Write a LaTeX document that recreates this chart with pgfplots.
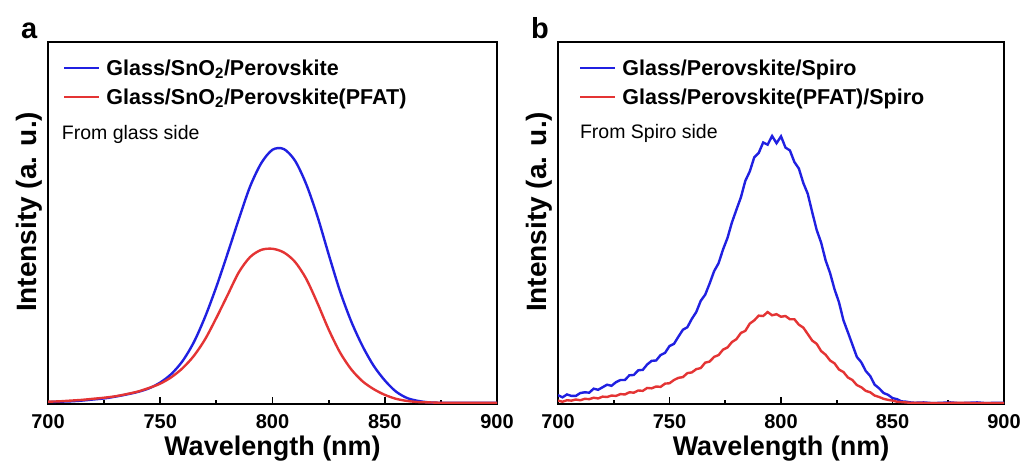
\documentclass[border=0pt]{standalone}
\usepackage{fontspec}
\setmainfont{Liberation Sans}
\usepackage{pgfplots}
\pgfplotsset{compat=1.18}
\definecolor{cblue}{RGB}{32,32,225}
\definecolor{cred}{RGB}{228,52,52}

\pgfplotstableread{
x y
700 0.004
705 0.005
710 0.006
715 0.008
720 0.011
725 0.014
730 0.019
735 0.025
740 0.032
745 0.042
750 0.058
755 0.082
760 0.118
765 0.170
770 0.240
775 0.323
780 0.415
785 0.510
790 0.600
795 0.665
800 0.702
805 0.704
810 0.672
815 0.607
820 0.518
825 0.413
830 0.312
835 0.228
840 0.160
845 0.105
850 0.064
855 0.033
860 0.015
865 0.007
870 0.003
875 0.002
880 0.002
885 0.002
890 0.002
895 0.002
900 0.002
}\blueA

\pgfplotstableread{
x y
700 0.005
705 0.006
710 0.008
715 0.010
720 0.013
725 0.016
730 0.020
735 0.026
740 0.033
745 0.043
750 0.055
755 0.073
760 0.098
765 0.132
770 0.178
775 0.237
780 0.300
785 0.363
790 0.405
795 0.425
800 0.428
805 0.418
810 0.392
815 0.345
820 0.278
825 0.205
830 0.142
835 0.095
840 0.062
845 0.040
850 0.024
855 0.013
860 0.007
865 0.004
870 0.003
875 0.002
880 0.002
885 0.002
890 0.002
895 0.002
900 0.002
}\redA

\pgfplotstableread{
x y
700 .023
702 .017
704 .025
706 .021
708 .021
710 .029
712 .031
714 .030
716 .041
718 .038
720 .045
722 .052
724 .049
726 .059
728 .065
730 .065
732 .078
734 .079
736 .092
738 .093
740 .108
742 .118
744 .119
746 .134
748 .140
750 .159
752 .165
754 .185
756 .204
758 .211
760 .234
762 .253
764 .284
766 .301
768 .332
770 .366
772 .388
774 .426
776 .458
778 .501
780 .536
782 .570
784 .616
786 .642
788 .681
790 .693
792 .722
794 .716
796 .740
798 .720
800 .739
802 .708
804 .700
806 .668
808 .650
810 .610
812 .580
814 .529
816 .480
818 .445
820 .396
822 .361
824 .316
826 .280
828 .230
830 .197
832 .163
834 .129
836 .114
838 .090
840 .076
842 .052
844 .042
846 .029
848 .024
850 .015
852 .012
854 .006
856 .005
858 .003
860 .002
864 .003
868 .001
872 .002
876 .003
880 .001
884 .002
888 .003
892 .001
896 .002
900 .002
}\blueB

\pgfplotstableread{
x y
700 .008
702 .005
704 .009
706 .008
708 .011
710 .009
712 .013
714 .012
716 .016
718 .014
720 .019
722 .018
724 .022
726 .021
728 .026
730 .025
732 .031
734 .030
736 .036
738 .035
740 .043
742 .042
744 .047
746 .046
748 .055
750 .056
752 .065
754 .071
756 .073
758 .084
760 .086
762 .095
764 .098
766 .113
768 .116
770 .129
772 .134
774 .149
776 .155
778 .170
780 .178
782 .195
784 .201
786 .221
788 .230
790 .243
792 .242
794 .253
796 .244
798 .247
800 .240
802 .242
804 .233
806 .233
808 .218
810 .210
812 .192
814 .174
816 .165
818 .145
820 .135
822 .119
824 .111
826 .094
828 .087
830 .072
832 .065
834 .051
836 .045
838 .035
840 .031
842 .022
844 .018
846 .013
848 .010
850 .008
852 .005
854 .004
856 .003
858 .002
860 .002
870 .001
880 .002
890 .001
900 .001
}\redB

\pgfplotsset{
  myaxis/.style={
    scale only axis,
    height=361.5pt,
    xmin=700, xmax=900, ymin=0, ymax=1,
    axis line style={line width=2pt},
    xtick={700,750,...,900},
    minor x tick num=1,
    ytick=\empty,
    tick align=inside,
    xtick pos=bottom,
    major tick length=7pt,
    minor tick length=4pt,
    every tick/.style={line width=1.8pt, black},
    /pgf/number format/assume math mode=true,
    xticklabel style={font=\bfseries\fontsize{20}{24}\selectfont, anchor=base, yshift=-25pt},
    xlabel={Wavelength (nm)},
    xlabel style={font=\bfseries\fontsize{27}{32}\selectfont, at={(axis description cs:0.5,-0.1425)}, anchor=base},
    ylabel={Intensity (a. u.)},
    ylabel style={font=\bfseries\fontsize{28}{32}\selectfont, at={(axis description cs:-0.0267,0.53)}, anchor=base},
    legend image code/.code={\draw[##1] (0pt,0pt) -- (35pt,0pt);},
    legend cell align=left,
    legend style={draw=none, fill=none, inner sep=0pt, outer sep=0pt,
      anchor=north west, row sep=7pt, column sep=6pt,
      font=\bfseries\fontsize{21.5}{25}\selectfont,
      nodes={inner sep=0pt, text height=18pt, text depth=4pt}},
  },
  bl/.style={cblue, line width=2.4pt},
  rd/.style={cred, line width=2.4pt},
}

\begin{document}
\begin{tikzpicture}
\useasboundingbox (0,0) rectangle (1027pt,463pt);
\begin{axis}[myaxis, width=449pt, at={(48pt,59.5pt)}, anchor=south west,
  legend style={at={(axis description cs:0.0334,0.9585)}}]
\addplot[bl, smooth] table {\blueA};
\addlegendentry{Glass/SnO\textsubscript{2}/Perovskite}
\addplot[rd, smooth] table {\redA};
\addlegendentry{Glass/SnO\textsubscript{2}/Perovskite(PFAT)}
\node[anchor=base west, font=\fontsize{19.5}{23}\selectfont, inner sep=0pt] at (axis description cs:0.0305,0.729) {From glass side};
\end{axis}
\begin{axis}[myaxis, width=446pt, at={(558pt,59.5pt)}, anchor=south west,
  legend style={at={(axis description cs:0.047,0.9585)}}]
\addplot[bl] table {\blueB};
\addlegendentry{Glass/Perovskite/Spiro}
\addplot[rd] table {\redB};
\addlegendentry{Glass/Perovskite(PFAT)/Spiro}
\node[anchor=base west, font=\fontsize{19.5}{23}\selectfont, inner sep=0pt] at (axis description cs:0.049,0.7344) {From Spiro side};
\end{axis}
\node[anchor=base west, font=\bfseries\fontsize{29}{34}\selectfont, inner sep=0pt] at (21pt,424.7pt) {a};
\node[anchor=base west, font=\bfseries\fontsize{29}{34}\selectfont, inner sep=0pt] at (531pt,424.7pt) {b};
\end{tikzpicture}
\end{document}
